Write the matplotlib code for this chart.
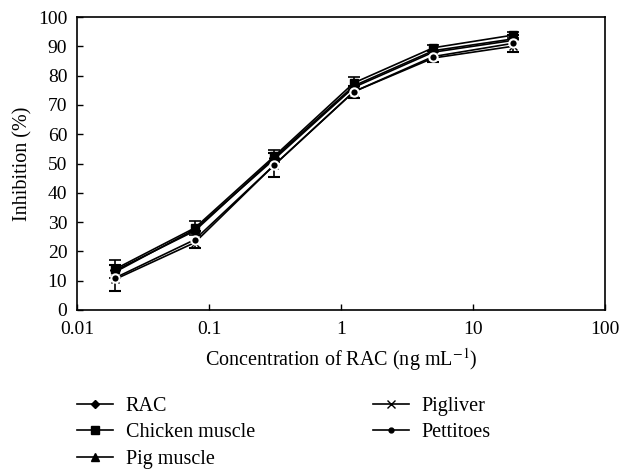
import matplotlib
matplotlib.use("Agg")
import matplotlib.pyplot as plt
from matplotlib.lines import Line2D

plt.rcParams['font.family'] = ['Liberation Serif', 'DejaVu Serif']
plt.rcParams['mathtext.fontset'] = 'stix'

conc = [0.0195, 0.078, 0.3125, 1.25, 5, 20]
rac = [13.5, 27, 52, 76.5, 88.5, 92.5]
chicken = [14, 28, 52.5, 77.5, 89.5, 93.8]
pig_muscle = [13, 27.5, 51.5, 76, 88, 92]
pigliver = [10.5, 23, 49.5, 74.5, 86, 90]
pettitoes = [11, 24, 49.5, 74.5, 86.5, 91]
chicken_err = [3, 2.5, 2, 2, 1, 1]
pettitoes_err = [4.5, 3, 4, 2, 2, 3]

fig = plt.figure(figsize=(6.22, 4.70), dpi=100)
ax = fig.add_axes([77/622, 1-310/470, (605-77)/622, (310-17)/470])

lw = 1.2
ax.plot(conc, rac, color='black', lw=lw, marker='D', ms=5)
ax.errorbar(conc, chicken, yerr=chicken_err, color='black', lw=lw, marker='s', ms=6,
            capsize=4, elinewidth=1.2, capthick=1.2)
ax.plot(conc, pig_muscle, color='black', lw=lw, marker='^', ms=6)
ax.plot(conc, pigliver, color='black', lw=lw, marker='x', ms=6)
ax.errorbar(conc, pettitoes, yerr=pettitoes_err, color='black', lw=lw, marker='o', ms=6,
            mfc='black', mec='white', mew=1.5, capsize=4, elinewidth=1.2, capthick=1.2)

ax.set_xscale('log')
ax.set_xlim(0.01, 100)
ax.set_ylim(0, 100)
ax.set_xticks([0.01, 0.1, 1, 10, 100])
ax.set_xticklabels(['0.01', '0.1', '1', '10', '100'])
ax.xaxis.set_minor_locator(matplotlib.ticker.NullLocator())
ax.set_yticks(range(0, 101, 10))
ax.tick_params(direction='in', labelsize=14, length=4, width=1)
ax.tick_params(axis='x', pad=8)
ax.tick_params(axis='y', pad=7)
for s in ax.spines.values():
    s.set_linewidth(1.2)
ax.set_xlabel('Concentration of RAC (ng mL$^{-1}$)', fontsize=14.5, labelpad=6)
ax.set_ylabel('Inhibition (%)', fontsize=14.5, labelpad=4)

labels = ['RAC', 'Chicken muscle', 'Pig muscle', 'Pigliver', 'Pettitoes']
markers = ['D', 's', '^', 'x', 'o']
sizes = [4.5, 5.5, 6, 5.5, 3.5]
handles = [Line2D([], [], color='black', lw=1.2, marker=m, ms=s) for m, s in zip(markers, sizes)]
fig.legend(handles, labels, ncol=2, loc='upper left', bbox_to_anchor=(0.095, 0.194),
           frameon=False, fontsize=14.5, handlelength=1.8, handletextpad=0.6,
           columnspacing=5.85, labelspacing=0.36)

fig.savefig('out.png', dpi=100)
